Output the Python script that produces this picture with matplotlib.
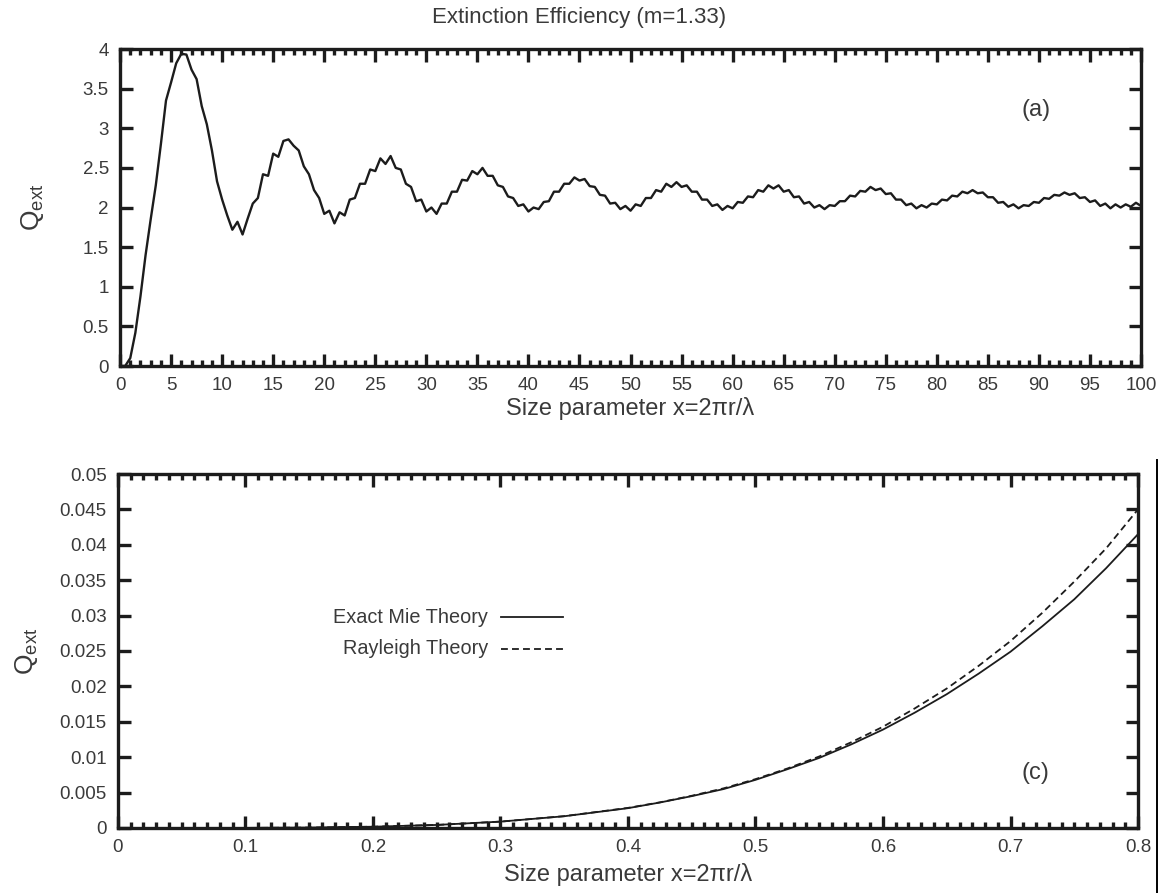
import matplotlib
matplotlib.use('Agg')
import matplotlib.pyplot as plt
from matplotlib.ticker import MultipleLocator, FuncFormatter
from matplotlib.lines import Line2D
import numpy as np

# panel (a): extinction efficiency over size parameter, every 0.5
x_big = np.arange(0, 100.5, 0.5)
q_big = [
    0.0, 0.0, 0.1, 0.42, 0.88, 1.4, 1.85, 2.28, 2.8, 3.35,
    3.58, 3.82, 3.94, 3.93, 3.74, 3.62, 3.28, 3.05, 2.72, 2.33,
    2.1, 1.9, 1.72, 1.82, 1.66, 1.86, 2.05, 2.12, 2.42, 2.4,
    2.68, 2.64, 2.84, 2.86, 2.78, 2.72, 2.52, 2.42, 2.22, 2.12,
    1.92, 1.96, 1.8, 1.94, 1.9, 2.1, 2.12, 2.3, 2.3, 2.48,
    2.46, 2.62, 2.55, 2.65, 2.5, 2.48, 2.3, 2.26, 2.08, 2.1,
    1.95, 2.0, 1.92, 2.05, 2.05, 2.2, 2.2, 2.35, 2.34, 2.46,
    2.42, 2.5, 2.4, 2.4, 2.28, 2.26, 2.14, 2.12, 2.02, 2.04,
    1.95, 2.0, 1.98, 2.07, 2.08, 2.2, 2.2, 2.3, 2.3, 2.38,
    2.34, 2.36, 2.27, 2.26, 2.16, 2.15, 2.05, 2.06, 1.98, 2.02,
    1.96, 2.04, 2.02, 2.12, 2.12, 2.22, 2.2, 2.3, 2.26, 2.32,
    2.26, 2.28, 2.2, 2.2, 2.1, 2.1, 2.02, 2.04, 1.97, 2.02,
    1.99, 2.07, 2.06, 2.14, 2.13, 2.22, 2.2, 2.28, 2.24, 2.28,
    2.2, 2.22, 2.13, 2.14, 2.05, 2.07, 2.0, 2.03, 1.98, 2.03,
    2.02, 2.08, 2.08, 2.15, 2.14, 2.21, 2.2, 2.26, 2.22, 2.24,
    2.17, 2.18, 2.1, 2.1, 2.03, 2.05, 1.99, 2.03, 2.0, 2.05,
    2.04, 2.1, 2.09, 2.15, 2.14, 2.2, 2.18, 2.22, 2.18, 2.19,
    2.13, 2.13, 2.06, 2.07, 2.01, 2.04, 1.99, 2.03, 2.02, 2.07,
    2.06, 2.12, 2.11, 2.16, 2.15, 2.19, 2.16, 2.18, 2.12, 2.13,
    2.07, 2.09, 2.02, 2.05, 1.99, 2.04, 2.0, 2.04, 2.01, 2.06,
    2.02,
]

# panel (c): small size parameters
x_small = [0, 0.05, 0.1, 0.15, 0.2, 0.25, 0.3, 0.35, 0.4, 0.425,
           0.45, 0.475, 0.5, 0.525, 0.55, 0.575, 0.6, 0.625, 0.65, 0.675,
           0.7, 0.725, 0.75, 0.775, 0.8]
q_mie = [0, 0, 0.00001, 0.00006, 0.00018, 0.00043, 0.0009, 0.00166, 0.0028, 0.0036,
         0.0045, 0.0055, 0.0068, 0.0083, 0.0099, 0.0118, 0.0139, 0.0163, 0.0189, 0.0218,
         0.0249, 0.0285, 0.0323, 0.0367, 0.0415]
q_rayleigh = [0, 0, 0.00001, 0.00006, 0.00018, 0.00043, 0.0009, 0.00167, 0.00284, 0.00362,
              0.00455, 0.0056, 0.0069, 0.0084, 0.0101, 0.0121, 0.0143, 0.0169, 0.0197, 0.0229,
              0.0264, 0.0304, 0.0348, 0.0395, 0.0450]

plt.rcParams['font.family'] = ['Liberation Sans', 'DejaVu Sans']
TXT = '#3a3a3a'
INK = '#1c1c1c'

fig = plt.figure(figsize=(11.61, 8.93), dpi=100)
ax_a = fig.add_axes([0.1034, 0.5901, 0.8794, 0.3550])
ax_c = fig.add_axes([0.1016, 0.0728, 0.8786, 0.3964])


def style_axes(ax):
    for sp in ax.spines.values():
        sp.set_linewidth(2.4)
        sp.set_color(INK)
    ax.tick_params(which='both', direction='in', top=True, right=True,
                   color=INK, width=2.4, labelsize=13.5, labelcolor=TXT, pad=8)
    ax.tick_params(which='major', length=9)
    ax.tick_params(which='minor', length=4.5)


def fmt_g(v, pos):
    return '{:g}'.format(round(v, 6))


# top panel
ax_a.plot(x_big, q_big, color=INK, lw=1.7)
ax_a.set_xlim(0, 100)
ax_a.set_ylim(0, 4)
ax_a.xaxis.set_major_locator(MultipleLocator(5))
ax_a.xaxis.set_minor_locator(MultipleLocator(1))
ax_a.yaxis.set_major_locator(MultipleLocator(0.5))
ax_a.yaxis.set_major_formatter(FuncFormatter(fmt_g))
style_axes(ax_a)
ax_a.set_xlabel('Size parameter x=2\u03c0r/\u03bb', fontsize=17, color=TXT)
ax_a.set_ylabel(r'$\mathregular{Q_{ext}}$', fontsize=19, color=TXT)
ax_a.xaxis.set_label_coords(0.5, -0.098)
ax_a.yaxis.set_label_coords(-0.073, 0.5)
ax_a.text(0.897, 0.807, '(a)', transform=ax_a.transAxes, ha='center', va='center',
          fontsize=17, color=TXT)

# bottom panel
ax_c.plot(x_small, q_mie, color=INK, lw=1.3)
ax_c.plot(x_small, q_rayleigh, color=INK, lw=1.3, dashes=(3.8, 2.3))
ax_c.set_xlim(0, 0.8)
ax_c.set_ylim(0, 0.05)
ax_c.xaxis.set_major_locator(MultipleLocator(0.1))
ax_c.xaxis.set_minor_locator(MultipleLocator(0.01))
ax_c.yaxis.set_major_locator(MultipleLocator(0.005))
ax_c.xaxis.set_major_formatter(FuncFormatter(fmt_g))
ax_c.yaxis.set_major_formatter(FuncFormatter(fmt_g))
style_axes(ax_c)
ax_c.set_xlabel('Size parameter x=2\u03c0r/\u03bb', fontsize=17, color=TXT)
ax_c.set_ylabel(r'$\mathregular{Q_{ext}}$', fontsize=19, color=TXT)
ax_c.xaxis.set_label_coords(0.5, -0.10)
ax_c.yaxis.set_label_coords(-0.076, 0.5)
ax_c.text(0.899, 0.155, '(c)', transform=ax_c.transAxes, ha='center', va='center',
          fontsize=17, color=TXT)

# gnuplot-style key: label on the left, sample on the right
key_rows = [('Exact Mie Theory', None, 0.596), ('Rayleigh Theory', (3.8, 2.3), 0.506)]
for label, dash, ky in key_rows:
    ax_c.text(0.363, ky, label, transform=ax_c.transAxes, ha='right', va='center',
              fontsize=14.3, color=TXT)
    ln = Line2D([0.376, 0.436], [ky, ky], transform=ax_c.transAxes, color=INK, lw=1.3)
    if dash:
        ln.set_dashes(dash)
    ax_c.add_line(ln)

fig.text(579 / 1161, 1 - 18 / 893, 'Extinction Efficiency (m=1.33)', ha='center',
         va='center', fontsize=16, color=TXT)

# thin frame edge on the right side of the lower half
fig.add_artist(Line2D([1157 / 1161, 1157 / 1161], [0, 1 - 460 / 893],
                      transform=fig.transFigure, color='black', lw=1.4))

fig.savefig('out.png', dpi=100)
